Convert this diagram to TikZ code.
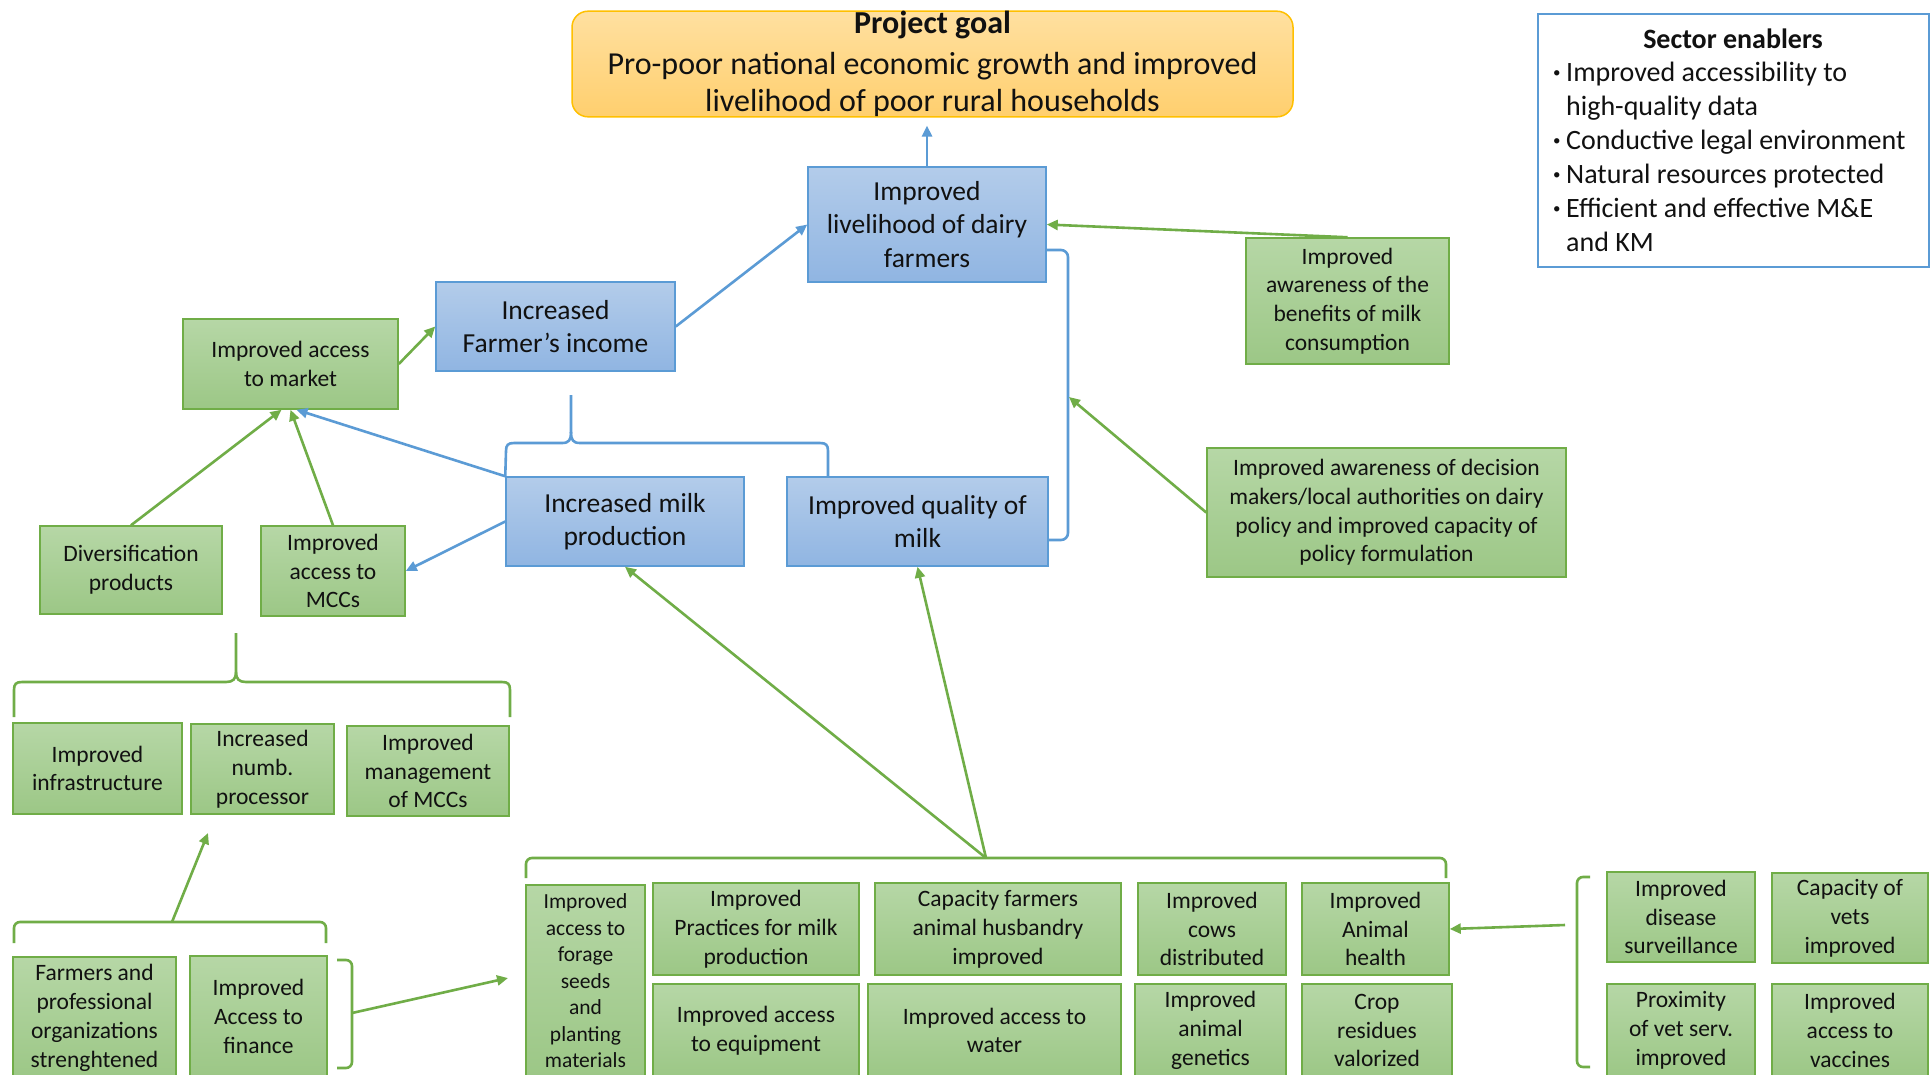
\documentclass[tikz,border=0pt]{standalone}
\usepackage{fontspec}
\setmainfont{Carlito}
\usetikzlibrary{arrows.meta,calc}

\definecolor{grnline}{HTML}{70AD47}
\definecolor{grntop}{HTML}{B6D7A6}
\definecolor{grnbot}{HTML}{9CC786}
\definecolor{bluline}{HTML}{5B9BD5}
\definecolor{blutop}{HTML}{B3CCEA}
\definecolor{blubot}{HTML}{90B5E2}
\definecolor{goltop}{HTML}{FFE0A0}
\definecolor{golbot}{HTML}{FFCF6E}
\definecolor{golline}{HTML}{FFC000}
\definecolor{ink}{HTML}{111111}

\newcommand{\fgoal}{\fontsize{32}{37}\selectfont}
\newcommand{\fblue}{\fontsize{27.5}{33.5}\selectfont}
\newcommand{\fgrn}{\fontsize{23.5}{28.8}\selectfont}
\newcommand{\fsmall}{\fontsize{21.5}{26.5}\selectfont}
\newcommand{\fsect}{\fontsize{28}{34}\selectfont}
\newcommand{\smallbullet}{\makebox[13pt][l]{\fontsize{15}{15}\selectfont\raisebox{3.5pt}{•}}}

\tikzset{
  box/.style={line width=1.5pt, inner sep=0pt, align=center, text=ink},
  sz/.style 2 args={minimum width=#1pt, minimum height=#2pt},
  gbox/.style={box, draw=grnline, top color=grntop, bottom color=grnbot, font=\fgrn},
  bbox/.style={box, draw=bluline, top color=blutop, bottom color=blubot, font=\fblue},
  garrow/.style={draw=grnline, line width=2.6pt, -{Triangle[length=11pt,width=10pt]}},
  barrow/.style={draw=bluline, line width=2.6pt, -{Triangle[length=11pt,width=10pt]}},
  gbrace/.style={draw=grnline, line width=2.6pt},
  bbrace/.style={draw=bluline, line width=2.6pt},
}

\begin{document}
\begin{tikzpicture}[x=1pt,y=-1pt]
\useasboundingbox (0,0) rectangle (1930,1074);
\clip (0,0) rectangle (1930,1074);
\fill[white] (0,0) rectangle (1930,1074);

% goal
\node[box, draw=golline, top color=goltop, bottom color=golbot, rounded corners=16pt,
      sz={721}{102}, font=\fgoal] (goal) at (932.5,64)
  {{\bfseries Project goal}\\[4pt]Pro-poor national economic growth and improved\\livelihood of poor rural households};

% sector enablers
\node[draw=bluline, line width=1.5pt, fill=white, sz={391}{253}, inner sep=0pt] (sector) at (1733.5,140.5) {};
\node[font=\fsect\bfseries, text=ink, inner sep=0pt] (sectortitle) at (1733,39) {Sector enablers};
\node[font=\fsect, text=ink, inner sep=0pt, anchor=base west] (sectorlist) at (1553,81)
  {\begin{tabular}[t]{@{}l@{}l@{}}
   \smallbullet&Improved accessibility to\\
    &high-quality data\\
   \smallbullet&Conductive legal environment\\
   \smallbullet&Natural resources protected\\
   \smallbullet&Efficient and effective M\&E\\
    &and KM
   \end{tabular}};

% blue outcome boxes
\node[bbox, sz={238}{115}] (livelihood) at (927,224.5) {Improved\\livelihood of dairy\\farmers};
\node[bbox, sz={239}{89}] (income) at (555.5,326.5) {Increased\\Farmer’s income};
\node[bbox, sz={238}{89}] (milk) at (625,521.5) {Increased milk\\production};
\node[bbox, sz={261}{89}] (quality) at (917.5,521.5) {Improved quality of\\milk};

% green boxes, upper part
\node[gbox, sz={215}{90}] (market) at (290.5,364) {Improved access\\to market};
\node[gbox, sz={182}{88}] (divers) at (131,570) {Diversification\\products};
\node[gbox, sz={144}{90}] (mccs) at (333,571) {Improved\\access to\\MCCs};
\node[gbox, sz={203}{126}] (benefits) at (1347.5,301) {Improved\\awareness of the\\benefits of milk\\consumption};
\node[gbox, sz={359}{129}] (decision) at (1386.5,512.5) {Improved awareness of decision\\makers/local authorities on dairy\\policy and improved capacity of\\policy formulation};

% green boxes, left lower part
\node[gbox, sz={169}{91}] (infra) at (97.5,768.5) {Improved\\infrastructure};
\node[gbox, sz={143}{90}] (processor) at (262.5,769) {Increased\\numb.\\processor};
\node[gbox, sz={162}{90}] (mgmt) at (428,771) {Improved\\management\\of MCCs};
\node[gbox, sz={163}{122}] (farmers) at (94.5,1018) {Farmers and\\professional\\organizations\\strenghtened};
\node[gbox, sz={137}{121}] (finance) at (258.5,1016.5) {Improved\\Access to\\finance};

% green boxes, bottom row
\node[gbox, sz={119}{192}, font=\fsmall] (forage) at (585.5,981) {Improved\\access to\\forage\\seeds\\and\\planting\\materials};
\node[gbox, sz={206}{92}] (practices) at (756,929) {Improved\\Practices for milk\\production};
\node[gbox, sz={246}{92}] (capacity) at (998,929) {Capacity farmers\\animal husbandry\\improved};
\node[gbox, sz={148}{92}] (cows) at (1212,929) {Improved\\cows\\distributed};
\node[gbox, sz={147}{92}] (health) at (1375.5,929) {Improved\\Animal\\health};
\node[gbox, sz={206}{93}] (equipment) at (756,1030.5) {Improved access\\to equipment};
\node[gbox, sz={253}{93}] (water) at (994.5,1030.5) {Improved access to\\water};
\node[gbox, sz={151}{93}] (genetics) at (1210.5,1030.5) {Improved\\animal\\genetics};
\node[gbox, sz={150}{93}] (crop) at (1377,1030.5) {Crop\\residues\\valorized};

% green boxes, right lower part
\node[gbox, sz={148}{90}] (surveil) at (1681,917) {Improved\\disease\\surveillance};
\node[gbox, sz={156}{90}] (vets) at (1850,918) {Capacity of\\vets\\improved};
\node[gbox, sz={148}{93}] (proximity) at (1681,1030.5) {Proximity\\of vet serv.\\improved};
\node[gbox, sz={156}{93}] (vaccines) at (1850,1030.5) {Improved\\access to\\vaccines};

% brace over milk production and milk quality
\draw[bbrace] (milk.north west) -- (506,451) .. controls (506,445) and (508,443) .. (514,443)
  -- (562,443) .. controls (569,443) and (571,440) .. (571,432) -- (571,395);
\draw[bbrace] (571,432) .. controls (571,440) and (573,443) .. (580,443)
  -- (820,443) .. controls (826,443) and (828,445) .. (828,451) -- (828,477);
% bracket joining milk quality to livelihood
\draw[bbrace, rounded corners=7pt] (1046,250) -- (1068,250) -- (1068,540) -- (1048,540);

% brace over the three MCC related boxes
\draw[gbrace] (14,717) -- (14,690) .. controls (14,684) and (16,682) .. (22,682)
  -- (226,682) .. controls (233,682) and (236,679) .. (236,672) -- (236,633);
\draw[gbrace] (236,672) .. controls (236,679) and (239,682) .. (246,682)
  -- (502,682) .. controls (508,682) and (510,684) .. (510,690) -- (510,717);
% bracket over farmers and finance
\draw[gbrace, rounded corners=6pt] (14,943) -- (14,922) -- (326,922) -- (326,943);
% bracket right of finance
\draw[gbrace, rounded corners=6pt] (337,960) -- (352,960) -- (352,1068) -- (337,1068);
% bracket over the production inputs
\draw[gbrace, rounded corners=6pt] (526,878) -- (526,858) -- (1446,858) -- (1446,878);
% bracket left of the veterinary boxes
\draw[gbrace, rounded corners=6pt] (1590,877) -- (1577,877) -- (1577,1067) -- (1590,1067);

% connector end points on braces and brackets
\coordinate (bkt) at (1069,397);
\coordinate (llpk) at (172,922);
\coordinate (lltg) at (208,833);
\coordinate (bpk) at (986,858);
\coordinate (fbk) at (352,1013);
\coordinate (ftg) at (508,978);
\coordinate (vbk) at (1565,925);

% connectors
\draw[barrow, shorten >=8pt] (livelihood.north) -- (livelihood.north |- goal.south);
\draw[barrow] (income.east) -- (livelihood.west);
\draw[garrow] (market.east) -- (income.west);
\draw[garrow] (divers.north) -- ([xshift=-9pt]market.south);
\draw[garrow] (mccs.north) -- (market.south);
\draw[barrow] (milk.north west) -- ([xshift=6pt]market.south);
\draw[barrow] (milk.west) -- (mccs.east);
\draw[garrow] (benefits.north) -- (livelihood.east);
\draw[garrow] (decision.west) -- (bkt);
\draw[garrow] (bpk) -- (milk.south);
\draw[garrow] (bpk) -- (quality.south);
\draw[garrow] (llpk) -- (lltg);
\draw[garrow] (fbk) -- (ftg);
\draw[garrow] (vbk) -- (health.east);
\end{tikzpicture}
\end{document}
